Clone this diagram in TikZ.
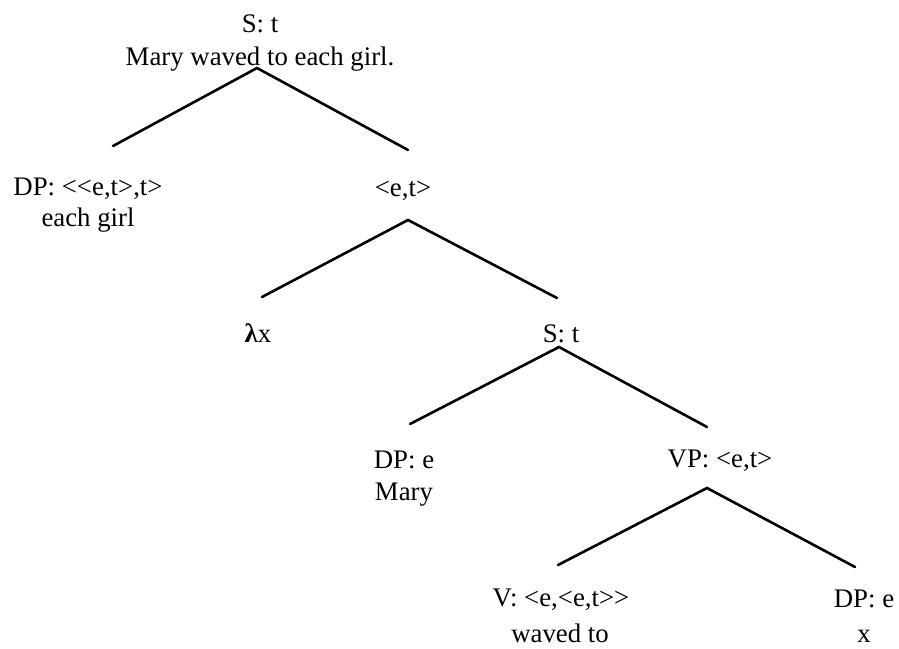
\documentclass[tikz,border=0pt]{standalone}
\usepackage{fontspec}
\setmainfont{Liberation Serif}
\begin{document}
\begin{tikzpicture}[x=1pt,y=-1pt,
  lbl/.style={anchor=base,inner sep=0pt,font=\fontsize{26.8}{30}\selectfont},
  branch/.style={line width=2.6pt,line cap=round,line join=miter}]
\useasboundingbox (0,0) rectangle (899,648);
% labels
\node[lbl] (root)  at (260,32) {S: t};
\node[lbl] (roots) at (260,65) {Mary waved to each girl.};
\node[lbl] (dp1)   at (88,195) {DP: <{}<e,t>,t>};
\node[lbl] (dp1s)  at (88,226) {each girl};
\node[lbl] (et)    at (403,196) {<e,t>};
\node[lbl] (lam)   at (258,342) {{\bfseries λ}x};
\node[lbl] (s2)    at (561,342) {S: t};
\node[lbl] (dp2)   at (404,468) {DP: e};
\node[lbl] (dp2s)  at (404,500) {Mary};
\node[lbl] (vp)    at (720,467) {VP: <e,t>};
\node[lbl] (v)     at (561,606) {V: <e,<e,t>{}>};
\node[lbl] (vs)    at (560,642) {waved to};
\node[lbl] (dp3)   at (864,607) {DP: e};
\node[lbl] (dp3s)  at (864,642) {x};
% branch points
\coordinate (a1) at (257,68);  \coordinate (l1) at (113,146); \coordinate (r1) at (408,150);
\coordinate (a2) at (408,220); \coordinate (l2) at (262,297); \coordinate (r2) at (557,298);
\coordinate (a3) at (559,347); \coordinate (l3) at (410,424); \coordinate (r3) at (707,427);
\coordinate (a4) at (707,488); \coordinate (l4) at (558,565); \coordinate (r4) at (855,567);
\draw[branch] (l1) -- (a1) -- (r1);
\draw[branch] (l2) -- (a2) -- (r2);
\draw[branch] (l3) -- (a3) -- (r3);
\draw[branch] (l4) -- (a4) -- (r4);
\end{tikzpicture}
\end{document}
